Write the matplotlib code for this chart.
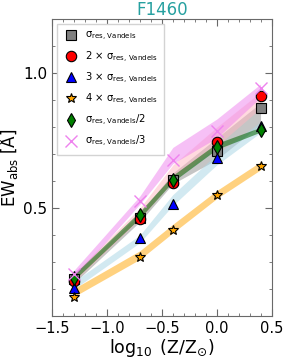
import numpy as np
import matplotlib
matplotlib.use("Agg")
import matplotlib.pyplot as plt
from matplotlib.ticker import MultipleLocator

# metallicity grid
logz = [-1.3, -0.7, -0.4, 0.0, 0.4]

# marker values (EW_abs, Angstrom)
ew_1 = [0.238, 0.465, 0.604, 0.713, 0.870]
ew_2 = [0.230, 0.459, 0.593, 0.746, 0.914]
ew_3 = [0.205, 0.388, 0.517, 0.686, 0.806]
ew_4 = [0.171, 0.319, 0.418, 0.548, 0.656]
ew_half = [0.242, 0.475, 0.605, 0.725, 0.791]
ew_third = [0.257, 0.527, 0.680, 0.787, 0.946]

# shaded ranges (lower, upper)
lo_1 = [0.222, 0.450, 0.590, 0.680, 0.810]
hi_1 = [0.252, 0.480, 0.630, 0.760, 0.890]
lo_2 = [0.228, 0.460, 0.600, 0.730, 0.870]
hi_2 = [0.258, 0.500, 0.660, 0.800, 0.930]
lo_3 = [0.200, 0.372, 0.510, 0.660, 0.780]
hi_3 = [0.228, 0.400, 0.550, 0.700, 0.820]
lo_4 = [0.172, 0.310, 0.408, 0.535, 0.642]
hi_4 = [0.202, 0.342, 0.440, 0.565, 0.672]
lo_half = [0.233, 0.463, 0.598, 0.718, 0.782]
hi_half = [0.255, 0.488, 0.622, 0.740, 0.800]
lo_third = [0.243, 0.515, 0.665, 0.760, 0.910]
hi_third = [0.270, 0.545, 0.725, 0.830, 0.960]

labels = ["σ$_{\\rm res,\\,Vandels}$",
          "2 × σ$_{\\rm res,\\,Vandels}$",
          "3 × σ$_{\\rm res,\\,Vandels}$",
          "4 × σ$_{\\rm res,\\,Vandels}$",
          "σ$_{\\rm res,\\,Vandels}$/2",
          "σ$_{\\rm res,\\,Vandels}$/3"]

fig = plt.figure(figsize=(2.87, 3.59), dpi=100)
ax = fig.add_axes([0.182, 0.12, 0.764, 0.826])

# bands
ax.fill_between(logz, lo_1, hi_1, color="grey", alpha=0.45, lw=0, zorder=1)
ax.fill_between(logz, lo_2, hi_2, color="lightpink", alpha=0.5, lw=0, zorder=1)
ax.fill_between(logz, lo_3, hi_3, color="lightblue", alpha=0.55, lw=0, zorder=1)
ax.fill_between(logz, lo_4, hi_4, color="orange", alpha=0.5, lw=0, zorder=1)
ax.fill_between(logz, lo_half, hi_half, color="darkgreen", alpha=0.55, lw=0, zorder=2)
ax.fill_between(logz, lo_third, hi_third, color="violet", alpha=0.5, lw=0, zorder=1)

# markers
ax.plot(logz, ew_1, ls="none", marker="s", ms=7, mfc="grey", mec="k", mew=0.8,
        label=labels[0], zorder=5)
ax.plot(logz, ew_2, ls="none", marker="o", ms=7.5, mfc="red", mec="k", mew=0.8,
        label=labels[1], zorder=5)
ax.plot(logz, ew_3, ls="none", marker="^", ms=7, mfc="blue", mec="k", mew=0.8,
        label=labels[2], zorder=5)
ax.plot(logz, ew_4, ls="none", marker="*", ms=7, mfc="orange", mec="k", mew=0.8,
        label=labels[3], zorder=5)
ax.plot(logz, ew_half, ls="none", marker="d", ms=7, mfc="green", mec="k", mew=0.8,
        label=labels[4], zorder=6)
ax.plot(logz, ew_third, ls="none", marker="x", ms=8, mec="violet", mew=1.0,
        label=labels[5], zorder=6)

ax.set_xlim(-1.5, 0.5)
ax.set_ylim(0.1, 1.2)
ax.xaxis.set_major_locator(MultipleLocator(0.5))
ax.xaxis.set_minor_locator(MultipleLocator(0.1))
ax.yaxis.set_major_locator(MultipleLocator(0.5))
ax.yaxis.set_minor_locator(MultipleLocator(0.1))
ax.tick_params(which="both", direction="in", top=True, right=True,
               color="dimgrey")
ax.tick_params(which="major", length=5, labelsize=11)
ax.tick_params(which="minor", length=2.5)
ax.tick_params(axis="x", labelsize=10.5)
for sp in ax.spines.values():
    sp.set_color("dimgrey")

ax.set_xlabel(r"$\log_{10}$ (Z/Z$_{\odot}$)", fontsize=12.5, labelpad=1)
ax.set_ylabel(r"EW$_{\rm abs}$ [Å]", fontsize=12, labelpad=2)
ax.set_title("F1460", color="#26a0a0", fontsize=12, pad=3)

ax.legend(loc="upper left", fontsize=7.2, labelspacing=0.6,
          handletextpad=0.7, borderpad=0.6, framealpha=1,
          edgecolor="lightgrey", fancybox=False, handlelength=1.5)

fig.savefig("out.png", dpi=100)
